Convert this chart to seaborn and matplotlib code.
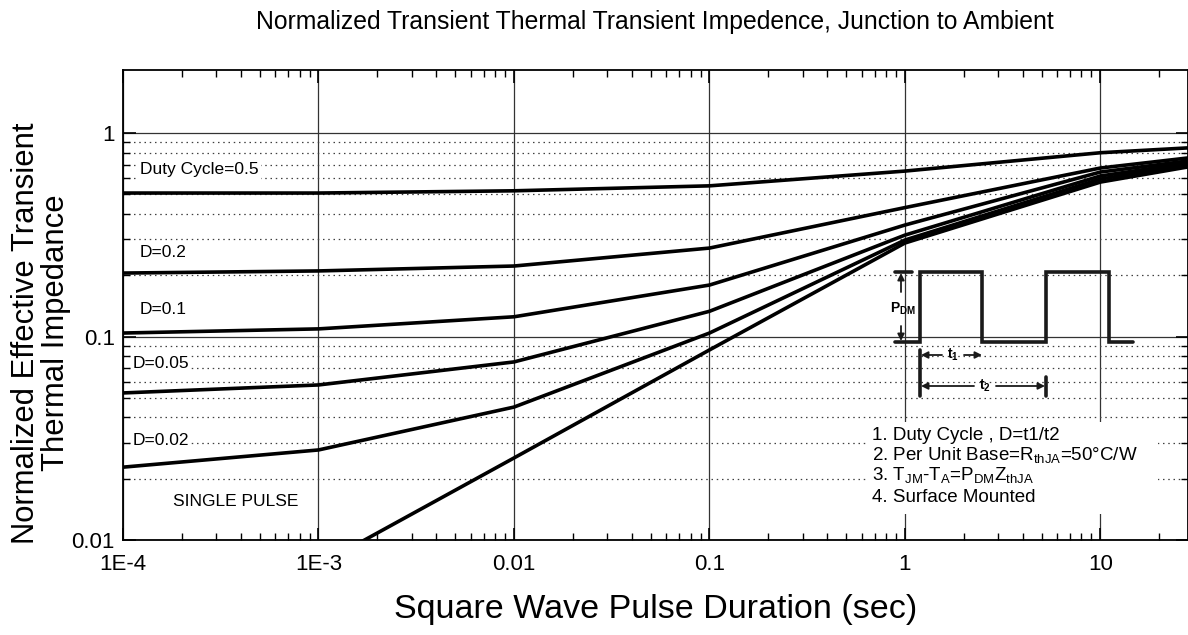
import numpy as np
import pandas as pd
import matplotlib
matplotlib.use("Agg")
import matplotlib.pyplot as plt
import seaborn as sns
from matplotlib.patches import Rectangle
from matplotlib.ticker import LogLocator, FixedLocator, FixedFormatter, NullFormatter

# ---------------------------------------------------------------------------
# Values (pulse duration in s, normalized Zth)
# ---------------------------------------------------------------------------
t_pts = [1e-4, 1e-3, 1e-2, 1e-1, 1, 10, 28]
d_050 = [0.507, 0.507, 0.52, 0.55, 0.65, 0.80, 0.845]
d_020 = [0.205, 0.21, 0.222, 0.272, 0.43, 0.673, 0.754]
d_010 = [0.104, 0.109, 0.125, 0.179, 0.353, 0.643, 0.729]
d_005 = [0.0528, 0.0578, 0.075, 0.133, 0.315, 0.615, 0.712]
d_002 = [0.0228, 0.0277, 0.045, 0.104, 0.298, 0.594, 0.696]
t_single = [1.5e-3, 1e-2, 1e-1, 1, 10, 28]
single = [0.0093, 0.0253, 0.0859, 0.288, 0.574, 0.681]

x_ticks = [1e-4, 1e-3, 1e-2, 1e-1, 1, 10]
x_ticklabels = ["1E-4", "1E-3", "0.01", "0.1", "1", "10"]
y_ticks = [0.01, 0.1, 1]
y_ticklabels = ["0.01", "0.1", "1"]
y_minor = [k * 10.0 ** e for e in (-2, -1) for k in range(2, 10)]

curves = {"0.5": (t_pts, d_050), "0.2": (t_pts, d_020), "0.1": (t_pts, d_010),
          "0.05": (t_pts, d_005), "0.02": (t_pts, d_002), "single": (t_single, single)}
df = pd.concat([pd.DataFrame({"t": t, "z": z, "curve": k}) for k, (t, z) in curves.items()],
               ignore_index=True)

# ---------------------------------------------------------------------------
# Style
# ---------------------------------------------------------------------------
sns.set_theme(style="ticks")
plt.rcParams["font.family"] = ["Liberation Sans", "DejaVu Sans"]
plt.rcParams["mathtext.fontset"] = "custom"
plt.rcParams["mathtext.rm"] = "Liberation Sans"
plt.rcParams["mathtext.bf"] = "Liberation Sans:bold"
plt.rcParams["xtick.direction"] = "in"
plt.rcParams["ytick.direction"] = "in"
for key in ["text.color", "axes.labelcolor", "xtick.color", "ytick.color",
            "xtick.labelcolor", "ytick.labelcolor"]:
    plt.rcParams[key] = "black"

W, H = 1188, 635
fig = plt.figure(figsize=(W / 100, H / 100), dpi=100)
ax = fig.add_axes([123 / W, 1 - 540 / H, (W - 123) / W, (540 - 70) / H])

for name in curves:
    sns.lineplot(data=df[df["curve"] == name], x="t", y="z", ax=ax,
                 color="black", lw=2.6, estimator=None, sort=False, zorder=3)

ax.set_xscale("log")
ax.set_yscale("log")
ax.set_xlim(1e-4, 28.05)
ax.set_ylim(0.01, 2.04)

ax.xaxis.set_major_locator(FixedLocator(x_ticks))
ax.xaxis.set_major_formatter(FixedFormatter(x_ticklabels))
ax.xaxis.set_minor_locator(LogLocator(base=10, subs=np.arange(2, 10), numticks=20))
ax.xaxis.set_minor_formatter(NullFormatter())
ax.yaxis.set_major_locator(FixedLocator(y_ticks))
ax.yaxis.set_major_formatter(FixedFormatter(y_ticklabels))
ax.yaxis.set_minor_locator(FixedLocator(y_minor))
ax.yaxis.set_minor_formatter(NullFormatter())

ax.tick_params(which="major", length=9, width=1.2, labelsize=16, top=True, right=True, pad=6)
ax.tick_params(which="minor", length=5, width=1.0, top=True, right=True)
ax.tick_params(axis="x", pad=10)

ax.grid(which="major", axis="both", color="0.2", lw=0.9, ls="-")
ax.grid(which="minor", axis="y", color="0.25", lw=0.9, ls=(0, (1.2, 3)))
for s in ax.spines.values():
    s.set_color("black")
    s.set_linewidth(1.3)

ax.set_xlabel("Square Wave Pulse Duration (sec)", fontsize=24.5, labelpad=14)
ax.set_ylabel("")

fig.text(655 / W, 1 - 22 / H, "Normalized Transient Thermal Transient Impedence, Junction to Ambient",
         ha="center", va="center", fontsize=17.8)
fig.text(41 / W, 1 - 333 / H, "Normalized Effective Transient\nThermal Impedance",
         rotation=90, ha="center", va="center", fontsize=22.3, linespacing=1.0,
         multialignment="center")

# curve labels
lbl = dict(fontsize=12.5, va="center", ha="left", zorder=2,
           bbox=dict(facecolor="white", edgecolor="none", pad=1.5))
ax.text(1.22e-4, 0.658, "Duty Cycle=0.5", **lbl)
ax.text(1.22e-4, 0.26, "D=0.2", **lbl)
ax.text(1.22e-4, 0.135, "D=0.1", **lbl)
ax.text(1.12e-4, 0.0733, "D=0.05", **lbl)
ax.text(1.12e-4, 0.0307, "D=0.02", **lbl)
ax.text(1.8e-4, 0.0154, "SINGLE PULSE", **lbl)

# ---------------------------------------------------------------------------
# Overlay in pixel coordinates: pulse schematic and notes
# ---------------------------------------------------------------------------
ov = fig.add_axes([0, 0, 1, 1])
ov.set_xlim(0, W)
ov.set_ylim(H, 0)
ov.axis("off")

ov.plot([895, 920, 920, 982, 982, 1046, 1046, 1109, 1109, 1133],
        [342, 342, 272, 272, 342, 342, 272, 272, 342, 342],
        color="0.1", lw=2.6, solid_joinstyle="miter")
ov.plot([895, 912], [272, 272], color="0.1", lw=2.6)
arr = dict(arrowstyle="-|>", color="0.1", lw=1.3, mutation_scale=10, shrinkA=0, shrinkB=0)
ov.annotate("", xy=(901, 273), xytext=(901, 292), arrowprops=arr)
ov.annotate("", xy=(901, 341), xytext=(901, 326), arrowprops=arr)
ov.text(903, 309, r"$\mathbf{P}_{\mathbf{DM}}$", ha="center", va="center", fontsize=10)

ov.plot([920, 920], [350, 396], color="0.1", lw=2.6)
ov.plot([1046, 1046], [377, 396], color="0.1", lw=2.6)
ov.annotate("", xy=(921, 355), xytext=(942, 355), arrowprops=arr)
ov.annotate("", xy=(982, 355), xytext=(964, 355), arrowprops=arr)
ov.text(953, 355, r"$\mathbf{t}_{\mathbf{1}}$", ha="center", va="center", fontsize=10)
ov.annotate("", xy=(921, 386), xytext=(974, 386), arrowprops=arr)
ov.annotate("", xy=(1045, 386), xytext=(996, 386), arrowprops=arr)
ov.text(985, 386, r"$\mathbf{t}_{\mathbf{2}}$", ha="center", va="center", fontsize=10)

ov.add_patch(Rectangle((866, 422), 292, 92, facecolor="white", edgecolor="none"))
notes = ["1. Duty Cycle , D=t1/t2",
         r"2. Per Unit Base=R$_{\mathrm{thJA}}$=50°C/W",
         r"3. T$_{\mathrm{JM}}$-T$_{\mathrm{A}}$=P$_{\mathrm{DM}}$Z$_{\mathrm{thJA}}$",
         "4. Surface Mounted"]
for yy, s in zip([435, 456, 476, 498], notes):
    ov.text(872, yy, s, ha="left", va="center", fontsize=13.5)

fig.savefig("out.png", dpi=100)
